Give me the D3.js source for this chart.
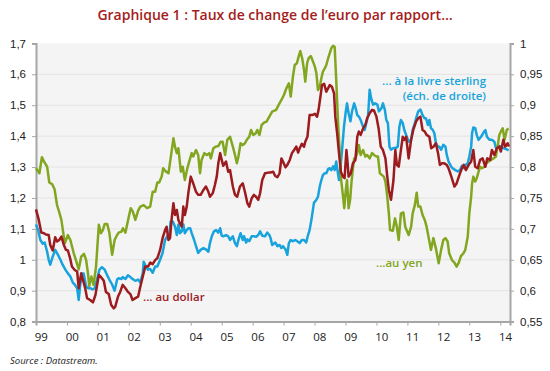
<!DOCTYPE html>
<html>
<head>
<meta charset="utf-8">
<script src="https://cdn.jsdelivr.net/npm/d3@7"></script>
<style>
  body { margin: 0; background: #fff; }
  svg { display: block; font-family: "Open Sans", "Noto Sans", sans-serif; }
</style>
</head>
<body>
<div id="chart"></div>
<script>
// year labels under the axis
const yearLabels = ['99','00','01','02','03','04','05','06','07','08','09','10','11','12','13','14'];
const leftTicks = [0.8, 0.9, 1.0, 1.1, 1.2, 1.3, 1.4, 1.5, 1.6, 1.7];
const rightTicks = [0.55, 0.6, 0.65, 0.7, 0.75, 0.8, 0.85, 0.9, 0.95, 1.0];

// EUR/USD, left axis  [year, rate]
const dollar = [[1999.00,1.163],[1999.09,1.129],[1999.17,1.088],[1999.26,1.086],[1999.32,1.082],[1999.41,1.080],[1999.46,1.048],[1999.54,1.030],[1999.62,1.073],[1999.68,1.059],[1999.75,1.064],[1999.82,1.075],[1999.90,1.048],[1999.97,1.032],[2000.03,1.030],[2000.11,1.002],[2000.16,0.978],[2000.25,0.967],[2000.33,0.962],[2000.38,0.908],[2000.46,0.956],[2000.59,0.908],[2000.65,0.876],[2000.75,0.870],[2000.84,0.862],[2000.92,0.886],[2001.03,0.951],[2001.11,0.943],[2001.19,0.932],[2001.26,0.896],[2001.35,0.889],[2001.43,0.854],[2001.51,0.843],[2001.56,0.848],[2001.65,0.881],[2001.72,0.896],[2001.80,0.919],[2001.89,0.908],[2001.97,0.896],[2002.05,0.889],[2002.12,0.870],[2002.21,0.876],[2002.30,0.881],[2002.37,0.913],[2002.45,0.946],[2002.53,0.978],[2002.62,0.978],[2002.69,0.991],[2002.77,0.986],[2002.85,0.999],[2002.92,1.005],[2003.01,1.032],[2003.09,1.070],[2003.17,1.096],[2003.22,1.107],[2003.28,1.064],[2003.33,1.070],[2003.38,1.129],[2003.44,1.183],[2003.49,1.145],[2003.55,1.161],[2003.60,1.129],[2003.65,1.118],[2003.71,1.107],[2003.76,1.172],[2003.81,1.145],[2003.87,1.172],[2003.92,1.215],[2004.00,1.269],[2004.08,1.247],[2004.17,1.220],[2004.24,1.210],[2004.32,1.210],[2004.41,1.226],[2004.49,1.237],[2004.57,1.220],[2004.62,1.204],[2004.71,1.215],[2004.78,1.242],[2004.84,1.269],[2004.89,1.312],[2004.95,1.345],[2005.00,1.323],[2005.05,1.304],[2005.14,1.318],[2005.21,1.285],[2005.27,1.290],[2005.36,1.237],[2005.43,1.210],[2005.50,1.204],[2005.59,1.237],[2005.68,1.247],[2005.75,1.220],[2005.83,1.183],[2005.89,1.172],[2005.97,1.199],[2006.04,1.210],[2006.11,1.204],[2006.18,1.194],[2006.24,1.215],[2006.31,1.258],[2006.40,1.280],[2006.51,1.282],[2006.58,1.282],[2006.66,1.285],[2006.73,1.271],[2006.80,1.267],[2006.87,1.280],[2006.93,1.328],[2006.98,1.318],[2007.06,1.299],[2007.12,1.307],[2007.20,1.323],[2007.27,1.345],[2007.34,1.355],[2007.41,1.366],[2007.47,1.347],[2007.52,1.361],[2007.59,1.375],[2007.66,1.366],[2007.70,1.382],[2007.77,1.398],[2007.84,1.468],[2007.92,1.468],[2008.01,1.472],[2008.08,1.463],[2008.13,1.485],[2008.19,1.528],[2008.24,1.565],[2008.31,1.569],[2008.38,1.544],[2008.44,1.555],[2008.49,1.565],[2008.56,1.560],[2008.63,1.538],[2008.67,1.463],[2008.73,1.409],[2008.78,1.355],[2008.85,1.285],[2008.92,1.269],[2008.97,1.264],[2009.03,1.355],[2009.06,1.323],[2009.10,1.269],[2009.17,1.280],[2009.24,1.312],[2009.32,1.323],[2009.38,1.398],[2009.43,1.415],[2009.49,1.404],[2009.57,1.425],[2009.64,1.436],[2009.70,1.458],[2009.78,1.474],[2009.86,1.485],[2009.92,1.483],[2010.00,1.463],[2010.07,1.425],[2010.14,1.366],[2010.21,1.355],[2010.29,1.328],[2010.35,1.269],[2010.40,1.226],[2010.47,1.194],[2010.55,1.258],[2010.61,1.355],[2010.66,1.307],[2010.72,1.301],[2010.79,1.355],[2010.85,1.398],[2010.90,1.388],[2010.96,1.398],[2011.04,1.328],[2011.12,1.388],[2011.19,1.420],[2011.28,1.447],[2011.35,1.458],[2011.42,1.463],[2011.49,1.420],[2011.56,1.415],[2011.62,1.404],[2011.71,1.398],[2011.77,1.361],[2011.84,1.366],[2011.92,1.377],[2011.99,1.345],[2012.05,1.307],[2012.12,1.312],[2012.19,1.312],[2012.27,1.307],[2012.33,1.296],[2012.42,1.269],[2012.52,1.237],[2012.59,1.247],[2012.68,1.274],[2012.76,1.296],[2012.82,1.307],[2012.89,1.290],[2012.98,1.307],[2013.06,1.318],[2013.13,1.355],[2013.19,1.301],[2013.27,1.296],[2013.35,1.323],[2013.43,1.328],[2013.52,1.301],[2013.58,1.328],[2013.67,1.323],[2013.73,1.355],[2013.81,1.339],[2013.89,1.361],[2013.97,1.366],[2014.02,1.350],[2014.10,1.388],[2014.16,1.366],[2014.24,1.377],[2014.28,1.366]];

// EUR/JPY divided by 100, left axis
const yen = [[1999.00,1.296],[1999.11,1.280],[1999.19,1.332],[1999.28,1.314],[1999.36,1.301],[1999.43,1.250],[1999.52,1.245],[1999.60,1.228],[1999.68,1.177],[1999.73,1.161],[1999.82,1.129],[1999.93,1.053],[2000.03,1.080],[2000.11,1.064],[2000.22,1.021],[2000.29,0.999],[2000.38,0.969],[2000.46,1.010],[2000.55,1.019],[2000.62,0.999],[2000.68,0.956],[2000.72,0.915],[2000.79,0.946],[2000.86,0.919],[2000.94,0.978],[2001.03,1.113],[2001.10,1.086],[2001.16,1.096],[2001.22,1.116],[2001.30,1.116],[2001.37,1.088],[2001.46,1.016],[2001.54,1.064],[2001.62,1.080],[2001.67,1.088],[2001.76,1.091],[2001.81,1.102],[2001.89,1.088],[2002.00,1.140],[2002.06,1.167],[2002.13,1.156],[2002.21,1.129],[2002.30,1.159],[2002.37,1.172],[2002.48,1.177],[2002.59,1.167],[2002.69,1.172],[2002.77,1.220],[2002.85,1.220],[2002.92,1.250],[2002.98,1.250],[2003.06,1.269],[2003.11,1.296],[2003.20,1.285],[2003.28,1.280],[2003.35,1.328],[2003.44,1.393],[2003.49,1.366],[2003.55,1.345],[2003.60,1.361],[2003.68,1.285],[2003.74,1.301],[2003.81,1.258],[2003.89,1.296],[2003.98,1.328],[2004.03,1.345],[2004.08,1.334],[2004.17,1.355],[2004.24,1.339],[2004.30,1.280],[2004.35,1.323],[2004.44,1.345],[2004.52,1.339],[2004.60,1.345],[2004.65,1.328],[2004.73,1.361],[2004.81,1.366],[2004.89,1.368],[2004.97,1.382],[2005.03,1.382],[2005.11,1.339],[2005.18,1.388],[2005.27,1.398],[2005.36,1.366],[2005.43,1.339],[2005.49,1.312],[2005.54,1.334],[2005.61,1.377],[2005.68,1.371],[2005.75,1.377],[2005.81,1.388],[2005.89,1.398],[2005.95,1.420],[2006.02,1.404],[2006.10,1.409],[2006.15,1.420],[2006.22,1.404],[2006.29,1.436],[2006.37,1.444],[2006.45,1.447],[2006.54,1.463],[2006.63,1.479],[2006.76,1.485],[2006.84,1.501],[2006.93,1.517],[2007.01,1.533],[2007.09,1.555],[2007.17,1.571],[2007.23,1.528],[2007.30,1.592],[2007.36,1.630],[2007.43,1.636],[2007.49,1.659],[2007.54,1.675],[2007.60,1.652],[2007.66,1.614],[2007.70,1.576],[2007.76,1.636],[2007.81,1.652],[2007.88,1.659],[2007.95,1.641],[2008.01,1.625],[2008.06,1.603],[2008.11,1.549],[2008.17,1.560],[2008.22,1.587],[2008.27,1.609],[2008.33,1.619],[2008.38,1.630],[2008.44,1.652],[2008.49,1.668],[2008.54,1.684],[2008.60,1.692],[2008.65,1.689],[2008.70,1.582],[2008.76,1.442],[2008.81,1.355],[2008.86,1.258],[2008.92,1.204],[2008.96,1.167],[2009.01,1.226],[2009.05,1.258],[2009.10,1.167],[2009.15,1.194],[2009.19,1.247],[2009.24,1.296],[2009.28,1.328],[2009.32,1.328],[2009.38,1.345],[2009.43,1.371],[2009.49,1.339],[2009.57,1.355],[2009.64,1.334],[2009.70,1.339],[2009.78,1.328],[2009.86,1.345],[2009.92,1.339],[2010.00,1.334],[2010.05,1.334],[2010.11,1.280],[2010.18,1.274],[2010.24,1.269],[2010.29,1.253],[2010.35,1.204],[2010.40,1.150],[2010.44,1.096],[2010.53,1.094],[2010.60,1.134],[2010.66,1.107],[2010.72,1.064],[2010.79,1.150],[2010.87,1.153],[2010.93,1.107],[2011.04,1.080],[2011.12,1.107],[2011.17,1.150],[2011.24,1.177],[2011.30,1.217],[2011.35,1.172],[2011.42,1.172],[2011.49,1.145],[2011.56,1.129],[2011.62,1.107],[2011.69,1.070],[2011.76,1.032],[2011.84,1.070],[2011.92,1.037],[2012.01,0.989],[2012.09,1.032],[2012.16,1.064],[2012.23,1.070],[2012.30,1.059],[2012.35,1.021],[2012.44,0.999],[2012.52,0.991],[2012.59,0.978],[2012.66,0.991],[2012.73,1.012],[2012.81,1.021],[2012.87,1.032],[2012.95,1.075],[2013.00,1.150],[2013.06,1.204],[2013.09,1.247],[2013.13,1.269],[2013.19,1.253],[2013.24,1.264],[2013.30,1.285],[2013.35,1.301],[2013.41,1.296],[2013.49,1.301],[2013.54,1.312],[2013.63,1.318],[2013.70,1.323],[2013.78,1.328],[2013.86,1.334],[2013.93,1.377],[2013.97,1.404],[2014.02,1.415],[2014.08,1.425],[2014.14,1.388],[2014.21,1.420],[2014.27,1.425]];

// EUR/GBP, right axis
const sterling = [[1999.00,0.707],[1999.07,0.698],[1999.14,0.682],[1999.22,0.676],[1999.28,0.678],[1999.36,0.663],[1999.41,0.650],[1999.46,0.642],[1999.54,0.655],[1999.62,0.666],[1999.71,0.658],[1999.79,0.650],[1999.86,0.642],[1999.95,0.634],[2000.03,0.628],[2000.11,0.623],[2000.19,0.613],[2000.25,0.610],[2000.33,0.604],[2000.38,0.585],[2000.43,0.610],[2000.49,0.628],[2000.54,0.628],[2000.62,0.607],[2000.68,0.604],[2000.75,0.604],[2000.83,0.602],[2000.90,0.604],[2000.97,0.618],[2001.05,0.634],[2001.13,0.638],[2001.22,0.634],[2001.29,0.626],[2001.37,0.618],[2001.46,0.610],[2001.54,0.600],[2001.62,0.618],[2001.67,0.620],[2001.76,0.619],[2001.80,0.622],[2001.89,0.619],[2001.97,0.625],[2002.05,0.622],[2002.12,0.619],[2002.21,0.616],[2002.30,0.618],[2002.37,0.613],[2002.45,0.628],[2002.48,0.647],[2002.55,0.639],[2002.62,0.634],[2002.69,0.635],[2002.77,0.629],[2002.85,0.639],[2002.92,0.639],[2003.01,0.650],[2003.09,0.661],[2003.17,0.682],[2003.24,0.688],[2003.31,0.688],[2003.35,0.712],[2003.42,0.712],[2003.49,0.704],[2003.55,0.690],[2003.60,0.707],[2003.65,0.693],[2003.71,0.696],[2003.76,0.707],[2003.81,0.693],[2003.87,0.698],[2003.92,0.701],[2003.98,0.701],[2004.03,0.693],[2004.11,0.682],[2004.17,0.672],[2004.24,0.661],[2004.32,0.666],[2004.41,0.669],[2004.49,0.667],[2004.57,0.663],[2004.62,0.677],[2004.68,0.688],[2004.75,0.696],[2004.82,0.698],[2004.89,0.694],[2004.95,0.701],[2005.00,0.689],[2005.05,0.688],[2005.14,0.690],[2005.21,0.688],[2005.27,0.682],[2005.36,0.688],[2005.43,0.677],[2005.49,0.672],[2005.54,0.682],[2005.61,0.693],[2005.68,0.682],[2005.72,0.688],[2005.79,0.678],[2005.83,0.683],[2005.89,0.680],[2005.97,0.688],[2006.04,0.688],[2006.11,0.687],[2006.18,0.690],[2006.24,0.696],[2006.31,0.689],[2006.40,0.688],[2006.47,0.694],[2006.54,0.690],[2006.58,0.685],[2006.63,0.674],[2006.73,0.678],[2006.80,0.672],[2006.87,0.674],[2006.93,0.669],[2006.98,0.672],[2007.06,0.667],[2007.12,0.658],[2007.17,0.677],[2007.23,0.682],[2007.30,0.680],[2007.38,0.682],[2007.44,0.680],[2007.52,0.677],[2007.59,0.682],[2007.66,0.682],[2007.73,0.678],[2007.79,0.690],[2007.84,0.698],[2007.90,0.715],[2007.98,0.742],[2008.06,0.747],[2008.11,0.752],[2008.17,0.769],[2008.22,0.779],[2008.27,0.787],[2008.33,0.790],[2008.38,0.790],[2008.44,0.797],[2008.49,0.798],[2008.54,0.795],[2008.60,0.801],[2008.65,0.795],[2008.70,0.809],[2008.74,0.795],[2008.79,0.779],[2008.85,0.806],[2008.89,0.828],[2008.95,0.865],[2009.01,0.890],[2009.05,0.903],[2009.10,0.887],[2009.16,0.874],[2009.21,0.890],[2009.28,0.903],[2009.33,0.895],[2009.38,0.884],[2009.44,0.881],[2009.49,0.876],[2009.57,0.865],[2009.62,0.860],[2009.67,0.871],[2009.73,0.883],[2009.78,0.925],[2009.83,0.911],[2009.89,0.901],[2009.96,0.903],[2010.03,0.901],[2010.08,0.890],[2010.16,0.895],[2010.21,0.903],[2010.27,0.893],[2010.32,0.876],[2010.37,0.871],[2010.42,0.833],[2010.47,0.828],[2010.55,0.831],[2010.63,0.831],[2010.69,0.833],[2010.74,0.865],[2010.79,0.876],[2010.85,0.871],[2010.90,0.860],[2010.98,0.849],[2011.04,0.841],[2011.12,0.844],[2011.17,0.860],[2011.24,0.871],[2011.30,0.882],[2011.35,0.890],[2011.42,0.893],[2011.49,0.884],[2011.55,0.879],[2011.60,0.879],[2011.66,0.868],[2011.71,0.876],[2011.76,0.863],[2011.82,0.860],[2011.87,0.855],[2011.92,0.839],[2011.98,0.833],[2012.03,0.833],[2012.09,0.828],[2012.16,0.836],[2012.23,0.833],[2012.27,0.820],[2012.33,0.809],[2012.41,0.801],[2012.46,0.798],[2012.55,0.795],[2012.63,0.793],[2012.70,0.795],[2012.76,0.802],[2012.84,0.798],[2012.89,0.804],[2012.95,0.806],[2013.00,0.817],[2013.06,0.833],[2013.09,0.855],[2013.13,0.864],[2013.19,0.863],[2013.24,0.852],[2013.30,0.844],[2013.38,0.849],[2013.45,0.855],[2013.52,0.860],[2013.57,0.849],[2013.65,0.844],[2013.73,0.844],[2013.81,0.841],[2013.86,0.831],[2013.92,0.833],[2013.97,0.834],[2014.02,0.833],[2014.08,0.831],[2014.19,0.829],[2014.27,0.827]];

const red = '#9b1b1e', green = '#82a61f', blue = '#18a3dc';

const W = 550, H = 371;
const margin = { top: 43.4, right: 40, bottom: 49.4, left: 36 };
const width = W - margin.left - margin.right;
const height = H - margin.top - margin.bottom;

const svg = d3.select('#chart').append('svg')
  .attr('width', W).attr('height', H);

svg.append('text')
  .attr('x', 275).attr('y', 20)
  .attr('text-anchor', 'middle')
  .attr('fill', '#a31d20')
  .style('font-size', '14px')
  .style('font-weight', 600)
  .text('Graphique 1 : Taux de change de l’euro par rapport…');

const g = svg.append('g')
  .attr('transform', `translate(${margin.left},${margin.top})`);

const x = d3.scaleLinear().domain([1999, 1999 + 474 / 30.95]).range([0, width]);
const y = d3.scaleLinear().domain([0.8, 1.7]).range([height, 0]);
const y2 = d3.scaleLinear().domain([0.55, 1.0]).range([height, 0]);

g.append('rect')
  .attr('width', width).attr('height', height)
  .attr('fill', '#f4f4f4');

// grid
g.append('g')
  .selectAll('line')
  .data(leftTicks.slice(1, -1))
  .enter()
  .append('line')
  .attr('x1', 0).attr('x2', width)
  .attr('y1', d => y(d)).attr('y2', d => y(d))
  .attr('stroke', '#e3e3e3')
  .attr('stroke-width', 1);

const fmt = d3.format(',.2~f');
const frFmt = d => fmt(d).replace('.', ',');

// left axis
const yAxis = g.append('g')
  .call(d3.axisLeft(y).tickValues(leftTicks).tickFormat(frFmt).tickSize(4).tickPadding(6));
// right axis
const yAxis2 = g.append('g')
  .attr('transform', `translate(${width},0)`)
  .call(d3.axisRight(y2).tickValues(rightTicks).tickFormat(frFmt).tickSize(4).tickPadding(6));
// bottom axis, ticks at year starts
const xAxis = g.append('g')
  .attr('transform', `translate(0,${height})`)
  .call(d3.axisBottom(x).tickValues(d3.range(2000, 2015)).tickFormat('').tickSize(4));

[yAxis, yAxis2, xAxis].forEach(a => {
  a.select('.domain').attr('stroke', '#a6a6a6').attr('stroke-width', 2);
  a.selectAll('.tick line').attr('stroke', '#a6a6a6');
  a.selectAll('text').attr('fill', '#222').style('font-size', '11.5px');
});

g.append('g')
  .selectAll('text')
  .data(yearLabels)
  .enter()
  .append('text')
  .attr('x', (d, i) => x(1999 + i) + 5.3)
  .attr('y', height + 19)
  .attr('text-anchor', 'middle')
  .attr('fill', '#222')
  .style('font-size', '11.5px')
  .text(d => d);

const lineL = d3.line().x(d => x(d[0])).y(d => y(d[1]));
const lineR = d3.line().x(d => x(d[0])).y(d => y2(d[1]));

const series = [
  { data: sterling, gen: lineR, color: blue },
  { data: yen, gen: lineL, color: green },
  { data: dollar, gen: lineL, color: red }
];

series.forEach(s => {
  g.append('path')
    .datum(s.data)
    .attr('fill', 'none')
    .attr('stroke', s.color)
    .attr('stroke-width', 2.5)
    .attr('stroke-linejoin', 'round')
    .attr('d', s.gen);
});

// series labels
const lab = (txt, px, py, color, anchor) => svg.append('text')
  .attr('x', px).attr('y', py)
  .attr('text-anchor', anchor || 'start')
  .attr('fill', color)
  .style('font-size', '11.5px')
  .style('font-weight', 600)
  .text(txt);

lab('... au dollar', 143, 301, red);
lab('... à la livre sterling', 486, 85, blue, 'end');
lab('(éch. de droite)', 486, 100, blue, 'end');
lab('...au yen', 376, 267, green);

svg.append('text')
  .attr('x', 10).attr('y', 364)
  .attr('fill', '#222')
  .style('font-size', '9.5px')
  .style('font-style', 'italic')
  .text('Source : Datastream.');
</script>
</body>
</html>
